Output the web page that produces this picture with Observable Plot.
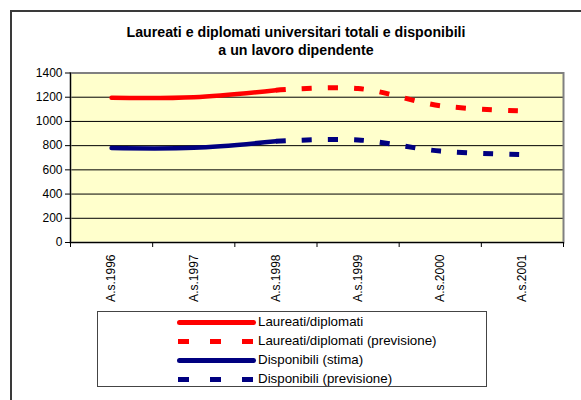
<!DOCTYPE html>
<html><head><meta charset="utf-8">
<script src="https://cdn.jsdelivr.net/npm/d3@7"></script>
<script src="https://cdn.jsdelivr.net/npm/@observablehq/plot@0.6"></script>
<style>
body{margin:0;background:#fff;font-family:"Liberation Sans",Arial,sans-serif;width:581px;height:400px;overflow:hidden;position:relative}
#frame{position:absolute;left:10px;top:10px;width:600px;height:420px;border-left:2px solid #3a3a3a;border-top:2px solid #3a3a3a}
#title{position:absolute;left:96px;width:400px;top:23px;text-align:center;font-weight:bold;font-size:14.2px;line-height:18px;color:#000;white-space:nowrap}
#chart{position:absolute;left:0;top:60px}
#legend{position:absolute;left:97px;top:311px;width:390px;height:76px;border:1px solid #444;box-sizing:border-box}
.row{position:absolute;left:0;height:19px;width:390px}
.row svg{position:absolute;left:79px;top:0}
.row span{position:absolute;left:160px;top:0px;font-size:13.33px;line-height:18px;color:#000;white-space:nowrap}
</style></head>
<body>
<div id="frame"></div>
<div id="title">Laureati e diplomati universitari totali e disponibili<br>a un lavoro dipendente</div>
<div id="chart"></div>
<div id="legend"></div>
<script>
const years = ["A.s.1996","A.s.1997","A.s.1998","A.s.1999","A.s.2000","A.s.2001"];
const laureati = [1195, 1200, 1258];
const laureatiPrev = [1258, 1272, 1130, 1087];
const disponibili = [780, 782, 836];
const disponibiliPrev = [836, 847, 755, 726];
const yTicks = [0,200,400,600,800,1000,1200,1400];
const seriesNames = ["Laureati/diplomati","Laureati/diplomati (previsione)","Disponibili (stima)","Disponibili (previsione)"];

const RED = "#ff0000", BLUE = "#000080";
const toRows = (vals, start) => vals.map((v, k) => ({i: start + k, v}));

const chart = Plot.plot({
  width: 581, height: 250,
  marginLeft: 70, marginRight: 18, marginTop: 12.5, marginBottom: 68,
  x: {domain: [-0.5, 5.5], axis: null},
  y: {domain: [0, 1400], axis: null},
  style: {fontFamily: "Liberation Sans, Arial, sans-serif", fontSize: "12px", background: "transparent", color: "#000"},
  marks: [
    Plot.frame({fill: "#ffffcc"}),
    Plot.ruleY(yTicks.filter(d => d > 0 && d < 1400), {stroke: "#000", strokeWidth: 1}),
    Plot.frame({stroke: "#808080", strokeWidth: 2}),
    Plot.ruleX([-0.5], {stroke: "#000", strokeWidth: 1}),
    Plot.ruleY([0], {stroke: "#000", strokeWidth: 1}),
    Plot.axisY({ticks: yTicks, tickSize: 5, tickPadding: 3, tickFormat: d => String(d), label: null, strokeOpacity: 1}),
    Plot.axisX({ticks: d3.range(-0.5, 6, 1), tickSize: 5, tickFormat: () => "", label: null, strokeOpacity: 1}),
    Plot.axisX({ticks: d3.range(0, 6), tickSize: 0, tickPadding: 12, tickRotate: -90, tickFormat: i => years[i], label: null}),
    Plot.line(toRows(laureatiPrev, 2), {x: "i", y: "v", stroke: RED, strokeWidth: 5, curve: "catmull-rom", strokeDasharray: "10,16", strokeLinecap: "butt"}),
    Plot.line(toRows(disponibiliPrev, 2), {x: "i", y: "v", stroke: BLUE, strokeWidth: 5, curve: "catmull-rom", strokeDasharray: "10,16", strokeLinecap: "butt"}),
    Plot.line(toRows(laureati, 0), {x: "i", y: "v", stroke: RED, strokeWidth: 4.5, curve: "catmull-rom", strokeLinecap: "round"}),
    Plot.line(toRows(disponibili, 0), {x: "i", y: "v", stroke: BLUE, strokeWidth: 4.5, curve: "catmull-rom", strokeLinecap: "round"})
  ]
});
document.getElementById("chart").appendChild(chart);

const legend = document.getElementById("legend");
const styles = [
  {color: RED, dash: null}, {color: RED, dash: "11,21"},
  {color: BLUE, dash: null}, {color: BLUE, dash: "11,21"}
];
seriesNames.forEach((name, k) => {
  const row = document.createElement("div");
  row.className = "row";
  row.style.top = (k * 19.3 + 0.5) + "px";
  const s = styles[k];
  const line = s.dash
    ? `<line x1="1" x2="78" y1="9.5" y2="9.5" stroke="${s.color}" stroke-width="5" stroke-dasharray="${s.dash}"/>`
    : `<line x1="2.5" x2="76.5" y1="9.5" y2="9.5" stroke="${s.color}" stroke-width="5" stroke-linecap="round"/>`;
  row.innerHTML = `<svg width="80" height="19">${line}</svg><span>${name}</span>`;
  legend.appendChild(row);
});
</script>
</body></html>
